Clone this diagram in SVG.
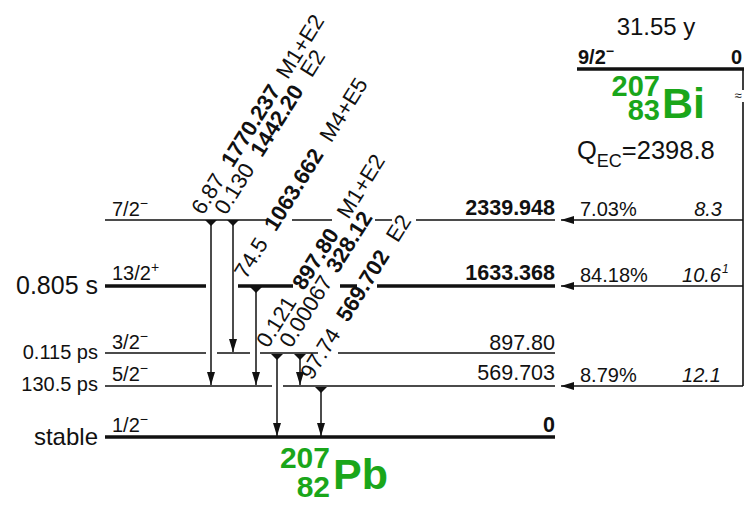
<svg xmlns="http://www.w3.org/2000/svg" width="746" height="506" viewBox="0 0 746 506">
<style>
text{font-family:"Liberation Sans",Arial,sans-serif;fill:#111}
.b{font-weight:bold}
.i{font-style:italic}
.g{fill:#1aa61a;font-weight:bold}
.thin{stroke:#111;stroke-width:1.6;fill:none}
.thick{stroke:#111;stroke-width:3.5;fill:none}
.tr{stroke:#111;stroke-width:1.5;fill:none;marker-start:url(#tail);marker-end:url(#head)}
.feed{stroke:#111;stroke-width:1.5;fill:none;marker-end:url(#head)}
.rl{font-size:22px}
</style>
<defs>
<marker id="head" viewBox="0 0 13 8" refX="13" refY="4" markerWidth="13" markerHeight="8" markerUnits="userSpaceOnUse" orient="auto"><path d="M0,0 L13,4 L0,8 z" fill="#111"/></marker>
<marker id="tail" viewBox="0 0 6 12" refX="0" refY="6" markerWidth="6" markerHeight="12" markerUnits="userSpaceOnUse" orient="auto"><path d="M0,0 L6,6 L0,12 z" fill="#111"/></marker>
</defs>

<g id="bi207">
<text x="656" y="35" font-size="24" text-anchor="middle">31.55 y</text>
<text x="578" y="64" font-size="20" class="b">9/2<tspan font-size="14" dy="-8">−</tspan></text>
<text x="742" y="64" font-size="20" class="b" text-anchor="end">0</text>
<path class="thick" d="M577,69 H744"/>
<text x="660" y="96" font-size="29" class="g" text-anchor="end">207</text>
<text x="660" y="120" font-size="29" class="g" text-anchor="end">83</text>
<text x="662" y="118" font-size="43" class="g">Bi</text>
<text x="577" y="159" font-size="25.5">Q<tspan font-size="18" dy="8">EC</tspan><tspan dy="-8">=2398.8</tspan></text>
</g>

<g id="level-2339">
<path class="thin" d="M105,220 H270 M292,220 H332 M375,220 H392 M416,220 H555"/>
<text x="112" y="216" font-size="20">7/2<tspan font-size="14" dy="-8">−</tspan></text>
<text x="555" y="215" font-size="21.5" class="b" text-anchor="end">2339.948</text>
</g>
<g id="level-1633">
<path class="thick" d="M105,286 H206 M238,286 H293 M340,286 H357 M377,286 H555"/>
<text x="112" y="280" font-size="20">13/2<tspan font-size="14" dy="-8">+</tspan></text>
<text x="98" y="294" font-size="25" text-anchor="end">0.805 s</text>
<text x="555" y="280" font-size="21.5" class="b" text-anchor="end">1633.368</text>
</g>
<g id="level-897">
<path class="thin" d="M105,353 H206 M217,353 H250 M260,353 H318 M338,353 H555"/>
<text x="112" y="349" font-size="20">3/2<tspan font-size="14" dy="-8">−</tspan></text>
<text x="98" y="359" font-size="20" text-anchor="end">0.115 ps</text>
<text x="555" y="350" font-size="21.5" text-anchor="end">897.80</text>
</g>
<g id="level-569">
<path class="thin" d="M105,386 H272 M283,386 H555"/>
<text x="112" y="381" font-size="20">5/2<tspan font-size="14" dy="-8">−</tspan></text>
<text x="98" y="391" font-size="20" text-anchor="end">130.5 ps</text>
<text x="555" y="380" font-size="21.5" text-anchor="end">569.703</text>
</g>
<g id="level-0">
<path class="thick" d="M105,437 H555"/>
<text x="112" y="432" font-size="20">1/2<tspan font-size="14" dy="-8">−</tspan></text>
<text x="98" y="445" font-size="24" text-anchor="end">stable</text>
<text x="555" y="432" font-size="21.5" class="b" text-anchor="end">0</text>
</g>
<g id="pb207">
<text x="330" y="468" font-size="30" class="g" text-anchor="end">207</text>
<text x="330" y="497" font-size="30" class="g" text-anchor="end">82</text>
<text x="333" y="489" font-size="43" class="g">Pb</text>
</g>

<g id="connectors">
<path class="thin" d="M743,69 V90 M743,102 V386"/>
<text x="738" y="100" font-size="13" text-anchor="middle">≈</text>
<path class="feed" d="M743,220 H561"/>
<path class="feed" d="M743,286 H561"/>
<path class="feed" d="M743,386 H561"/>
<path class="tr" d="M211,220 V385"/>
<path class="tr" d="M233,220 V352"/>
<path class="tr" d="M256,287 V385"/>
<path class="tr" d="M277,354 V436"/>
<path class="tr" d="M300,354 V385"/>
<path class="tr" d="M321,387 V436"/>
</g>

<g id="feed-labels">
<text x="580" y="216" font-size="20">7.03%</text>
<text x="722" y="216" font-size="20" class="i" text-anchor="end">8.3</text>
<text x="580" y="282" font-size="20">84.18%</text>
<text x="721" y="282" font-size="20" class="i" text-anchor="end">10.6</text>
<text x="722" y="273" font-size="12" class="i">1</text>
<text x="580" y="382" font-size="20">8.79%</text>
<text x="721" y="382" font-size="20" class="i" text-anchor="end">12.1</text>
</g>

<g id="gamma-labels" class="rl">
<text transform="translate(203,216) rotate(-58)"><tspan x="0">6.87</tspan><tspan x="56" class="b">1770.237</tspan><tspan x="160">M1+E2</tspan></text>
<text transform="translate(226,216) rotate(-58)"><tspan x="0">0.130</tspan><tspan x="68" class="b">1442.20</tspan><tspan x="162">E2</tspan></text>
<text transform="translate(246,280) rotate(-58)"><tspan x="0">74.5</tspan><tspan x="56" class="b">1063.662</tspan><tspan x="161">M4+E5</tspan></text>
<text transform="translate(268,349) rotate(-58)"><tspan x="0">0.121</tspan><tspan x="68" class="b">897.80</tspan><tspan x="152">M1+E2</tspan></text>
<text transform="translate(291,349) rotate(-58)"><tspan x="0">0.00067</tspan><tspan x="88" class="b">328.12</tspan></text>
<text transform="translate(312,381) rotate(-58)"><tspan x="0">97.74</tspan><tspan x="68" class="b">569.702</tspan><tspan x="162">E2</tspan></text>
</g>
</svg>
